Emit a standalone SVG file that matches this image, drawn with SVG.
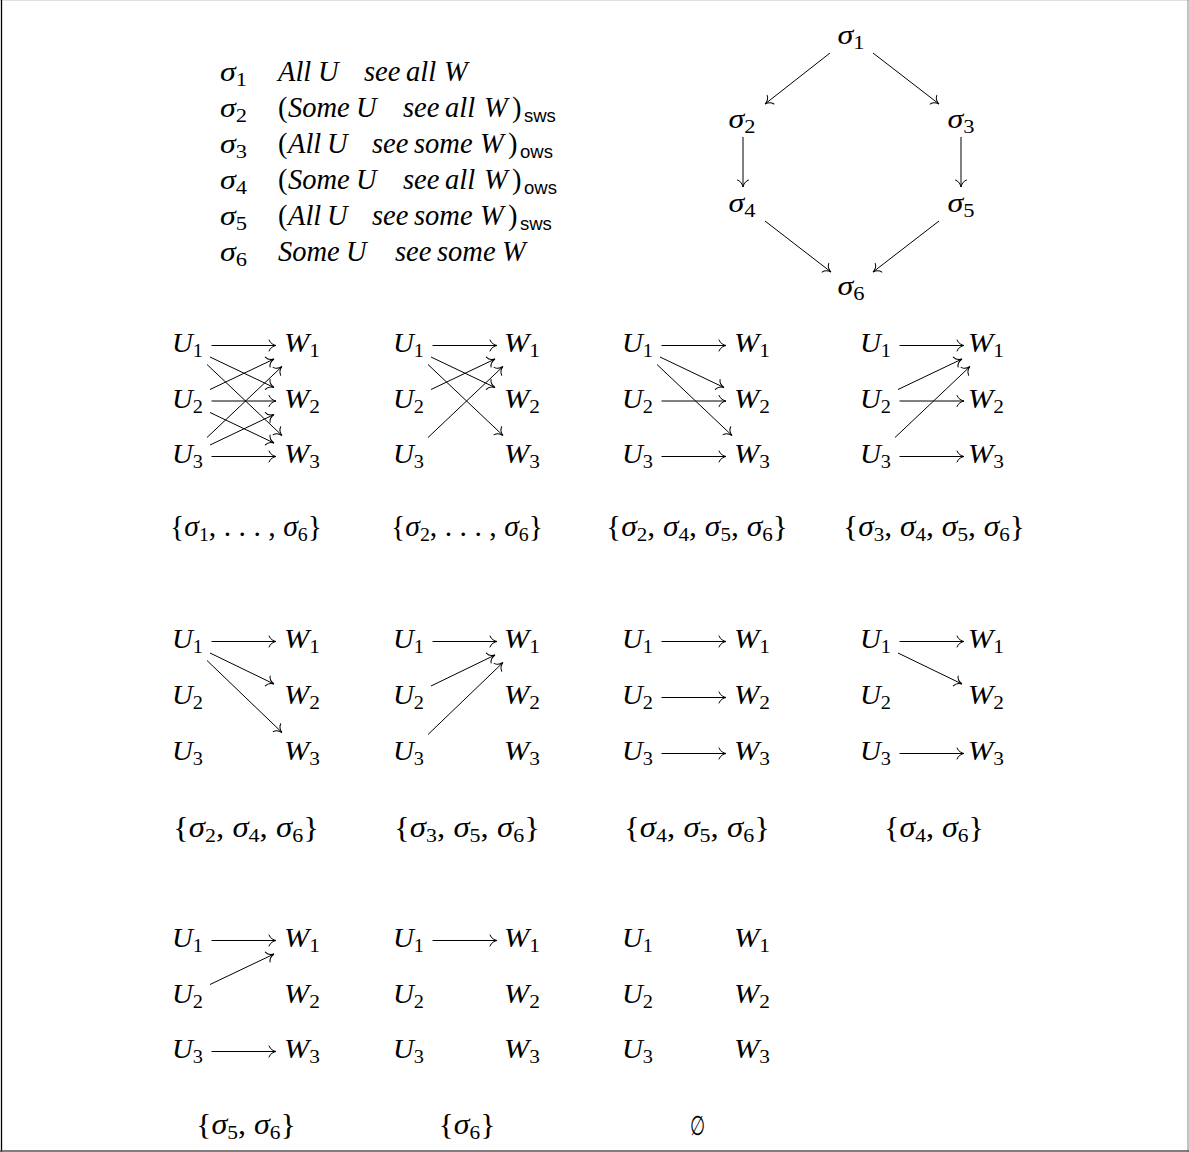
<svg xmlns="http://www.w3.org/2000/svg" width="1189" height="1152" viewBox="0 0 1189 1152">
<style>
.m{font-family:"Liberation Serif",serif;font-size:27px;font-style:italic;fill:#000}
.lg{font-size:28.5px}
.n{font-style:normal}
.s{font-size:19px;font-style:normal}
.sf{font-family:"Liberation Sans",sans-serif;font-size:18.5px;font-style:normal}
.lab{text-anchor:middle;font-size:28.5px}
.c{text-anchor:middle}
.e{fill:none;stroke:#000;stroke-width:1;marker-end:url(#to)}
</style>
<defs>
<marker id="to" markerUnits="userSpaceOnUse" orient="auto" overflow="visible" markerWidth="10" markerHeight="12" refX="0" refY="0">
<path d="M-7,-5.5 C-6,-2.2 -2.2,-0.4 0,0 C-2.2,0.4 -6,2.2 -7,5.5" fill="none" stroke="#000" stroke-width="1" stroke-linecap="round"/>
</marker>
</defs>
<rect width="1189" height="1152" fill="#fff"/>
<g id="frame">
<line x1="0" y1="0.5" x2="1189" y2="0.5" stroke="#e0e0e0" stroke-width="1"/>
<line x1="1.5" y1="0" x2="1.5" y2="1152" stroke="#000" stroke-width="1.3"/>
<line x1="1188" y1="0" x2="1188" y2="1152" stroke="#888" stroke-width="1"/>
<line x1="0" y1="1151" x2="1189" y2="1151" stroke="#555" stroke-width="1.3"/>
</g>

<g id="legend">
<text class="m" x="220" y="80.5" textLength="27" lengthAdjust="spacingAndGlyphs">σ<tspan class="s" dy="5">1</tspan></text>
<text class="m" x="220" y="116.5" textLength="27" lengthAdjust="spacingAndGlyphs">σ<tspan class="s" dy="5">2</tspan></text>
<text class="m" x="220" y="152.5" textLength="27" lengthAdjust="spacingAndGlyphs">σ<tspan class="s" dy="5">3</tspan></text>
<text class="m" x="220" y="188.5" textLength="27" lengthAdjust="spacingAndGlyphs">σ<tspan class="s" dy="5">4</tspan></text>
<text class="m" x="220" y="224.5" textLength="27" lengthAdjust="spacingAndGlyphs">σ<tspan class="s" dy="5">5</tspan></text>
<text class="m" x="220" y="260.5" textLength="27" lengthAdjust="spacingAndGlyphs">σ<tspan class="s" dy="5">6</tspan></text>
<text class="m lg" y="80.5"><tspan x="278">All</tspan><tspan x="318">U</tspan><tspan x="364">see</tspan><tspan x="406">all</tspan><tspan x="444">W</tspan></text>
<text class="m lg" y="116.5"><tspan class="n" x="278">(</tspan><tspan x="288">Some</tspan><tspan x="356">U</tspan><tspan x="403">see</tspan><tspan x="445">all</tspan><tspan x="484">W</tspan><tspan class="n" x="512">)</tspan><tspan class="sf" x="524" dy="5">sws</tspan></text>
<text class="m lg" y="152.5"><tspan class="n" x="278">(</tspan><tspan x="288">All</tspan><tspan x="327">U</tspan><tspan x="372">see</tspan><tspan x="414">some</tspan><tspan x="480">W</tspan><tspan class="n" x="508">)</tspan><tspan class="sf" x="520" dy="5">ows</tspan></text>
<text class="m lg" y="188.5"><tspan class="n" x="278">(</tspan><tspan x="288">Some</tspan><tspan x="356">U</tspan><tspan x="403">see</tspan><tspan x="445">all</tspan><tspan x="484">W</tspan><tspan class="n" x="512">)</tspan><tspan class="sf" x="524" dy="5">ows</tspan></text>
<text class="m lg" y="224.5"><tspan class="n" x="278">(</tspan><tspan x="288">All</tspan><tspan x="327">U</tspan><tspan x="372">see</tspan><tspan x="414">some</tspan><tspan x="480">W</tspan><tspan class="n" x="508">)</tspan><tspan class="sf" x="520" dy="5">sws</tspan></text>
<text class="m lg" y="260.5"><tspan x="278">Some</tspan><tspan x="346">U</tspan><tspan x="395">see</tspan><tspan x="437">some</tspan><tspan x="502">W</tspan></text>
</g>

<g id="hasse">
<g id="h1"><text class="m c" x="851" y="44" textLength="27" lengthAdjust="spacingAndGlyphs">σ<tspan class="s" dy="5">1</tspan></text></g>
<g id="h2"><text class="m c" x="742" y="128" textLength="27" lengthAdjust="spacingAndGlyphs">σ<tspan class="s" dy="5">2</tspan></text></g>
<g id="h3"><text class="m c" x="961" y="128" textLength="27" lengthAdjust="spacingAndGlyphs">σ<tspan class="s" dy="5">3</tspan></text></g>
<g id="h4"><text class="m c" x="742" y="212" textLength="27" lengthAdjust="spacingAndGlyphs">σ<tspan class="s" dy="5">4</tspan></text></g>
<g id="h5"><text class="m c" x="961" y="212" textLength="27" lengthAdjust="spacingAndGlyphs">σ<tspan class="s" dy="5">5</tspan></text></g>
<g id="h6"><text class="m c" x="851" y="295" textLength="27" lengthAdjust="spacingAndGlyphs">σ<tspan class="s" dy="5">6</tspan></text></g>
</g>

<g id="graph1">
<text class="m" x="172" y="352" textLength="31" lengthAdjust="spacingAndGlyphs">U<tspan class="s" dy="5">1</tspan></text>
<text class="m" x="172" y="407.5" textLength="31" lengthAdjust="spacingAndGlyphs">U<tspan class="s" dy="5">2</tspan></text>
<text class="m" x="172" y="463" textLength="31" lengthAdjust="spacingAndGlyphs">U<tspan class="s" dy="5">3</tspan></text>
<text class="m" x="284" y="352" textLength="36" lengthAdjust="spacingAndGlyphs">W<tspan class="s" dy="5">1</tspan></text>
<text class="m" x="284" y="407.5" textLength="36" lengthAdjust="spacingAndGlyphs">W<tspan class="s" dy="5">2</tspan></text>
<text class="m" x="284" y="463" textLength="36" lengthAdjust="spacingAndGlyphs">W<tspan class="s" dy="5">3</tspan></text>
<text class="m lab" x="246" y="536" textLength="152" lengthAdjust="spacingAndGlyphs"><tspan class="n">{</tspan>σ<tspan class="s" dy="5">1</tspan><tspan class="n" dy="-5">, . . . , </tspan>σ<tspan class="s" dy="5">6</tspan><tspan class="n" dy="-5">}</tspan></text>
</g>
<g id="graph2">
<text class="m" x="393" y="352" textLength="31" lengthAdjust="spacingAndGlyphs">U<tspan class="s" dy="5">1</tspan></text>
<text class="m" x="393" y="407.5" textLength="31" lengthAdjust="spacingAndGlyphs">U<tspan class="s" dy="5">2</tspan></text>
<text class="m" x="393" y="463" textLength="31" lengthAdjust="spacingAndGlyphs">U<tspan class="s" dy="5">3</tspan></text>
<text class="m" x="504" y="352" textLength="36" lengthAdjust="spacingAndGlyphs">W<tspan class="s" dy="5">1</tspan></text>
<text class="m" x="504" y="407.5" textLength="36" lengthAdjust="spacingAndGlyphs">W<tspan class="s" dy="5">2</tspan></text>
<text class="m" x="504" y="463" textLength="36" lengthAdjust="spacingAndGlyphs">W<tspan class="s" dy="5">3</tspan></text>
<text class="m lab" x="467" y="536" textLength="152" lengthAdjust="spacingAndGlyphs"><tspan class="n">{</tspan>σ<tspan class="s" dy="5">2</tspan><tspan class="n" dy="-5">, . . . , </tspan>σ<tspan class="s" dy="5">6</tspan><tspan class="n" dy="-5">}</tspan></text>
</g>
<g id="graph3">
<text class="m" x="622" y="352" textLength="31" lengthAdjust="spacingAndGlyphs">U<tspan class="s" dy="5">1</tspan></text>
<text class="m" x="622" y="407.5" textLength="31" lengthAdjust="spacingAndGlyphs">U<tspan class="s" dy="5">2</tspan></text>
<text class="m" x="622" y="463" textLength="31" lengthAdjust="spacingAndGlyphs">U<tspan class="s" dy="5">3</tspan></text>
<text class="m" x="734" y="352" textLength="36" lengthAdjust="spacingAndGlyphs">W<tspan class="s" dy="5">1</tspan></text>
<text class="m" x="734" y="407.5" textLength="36" lengthAdjust="spacingAndGlyphs">W<tspan class="s" dy="5">2</tspan></text>
<text class="m" x="734" y="463" textLength="36" lengthAdjust="spacingAndGlyphs">W<tspan class="s" dy="5">3</tspan></text>
<text class="m lab" x="697" y="536" textLength="182" lengthAdjust="spacingAndGlyphs"><tspan class="n">{</tspan>σ<tspan class="s" dy="5">2</tspan><tspan class="n" dy="-5">, </tspan>σ<tspan class="s" dy="5">4</tspan><tspan class="n" dy="-5">, </tspan>σ<tspan class="s" dy="5">5</tspan><tspan class="n" dy="-5">, </tspan>σ<tspan class="s" dy="5">6</tspan><tspan class="n" dy="-5">}</tspan></text>
</g>
<g id="graph4">
<text class="m" x="860" y="352" textLength="31" lengthAdjust="spacingAndGlyphs">U<tspan class="s" dy="5">1</tspan></text>
<text class="m" x="860" y="407.5" textLength="31" lengthAdjust="spacingAndGlyphs">U<tspan class="s" dy="5">2</tspan></text>
<text class="m" x="860" y="463" textLength="31" lengthAdjust="spacingAndGlyphs">U<tspan class="s" dy="5">3</tspan></text>
<text class="m" x="968" y="352" textLength="36" lengthAdjust="spacingAndGlyphs">W<tspan class="s" dy="5">1</tspan></text>
<text class="m" x="968" y="407.5" textLength="36" lengthAdjust="spacingAndGlyphs">W<tspan class="s" dy="5">2</tspan></text>
<text class="m" x="968" y="463" textLength="36" lengthAdjust="spacingAndGlyphs">W<tspan class="s" dy="5">3</tspan></text>
<text class="m lab" x="934" y="536" textLength="182" lengthAdjust="spacingAndGlyphs"><tspan class="n">{</tspan>σ<tspan class="s" dy="5">3</tspan><tspan class="n" dy="-5">, </tspan>σ<tspan class="s" dy="5">4</tspan><tspan class="n" dy="-5">, </tspan>σ<tspan class="s" dy="5">5</tspan><tspan class="n" dy="-5">, </tspan>σ<tspan class="s" dy="5">6</tspan><tspan class="n" dy="-5">}</tspan></text>
</g>

<g id="graph5">
<text class="m" x="172" y="648" textLength="31" lengthAdjust="spacingAndGlyphs">U<tspan class="s" dy="5">1</tspan></text>
<text class="m" x="172" y="704" textLength="31" lengthAdjust="spacingAndGlyphs">U<tspan class="s" dy="5">2</tspan></text>
<text class="m" x="172" y="760" textLength="31" lengthAdjust="spacingAndGlyphs">U<tspan class="s" dy="5">3</tspan></text>
<text class="m" x="284" y="648" textLength="36" lengthAdjust="spacingAndGlyphs">W<tspan class="s" dy="5">1</tspan></text>
<text class="m" x="284" y="704" textLength="36" lengthAdjust="spacingAndGlyphs">W<tspan class="s" dy="5">2</tspan></text>
<text class="m" x="284" y="760" textLength="36" lengthAdjust="spacingAndGlyphs">W<tspan class="s" dy="5">3</tspan></text>
<text class="m lab" x="246" y="836.5" textLength="146" lengthAdjust="spacingAndGlyphs"><tspan class="n">{</tspan>σ<tspan class="s" dy="5">2</tspan><tspan class="n" dy="-5">, </tspan>σ<tspan class="s" dy="5">4</tspan><tspan class="n" dy="-5">, </tspan>σ<tspan class="s" dy="5">6</tspan><tspan class="n" dy="-5">}</tspan></text>
</g>
<g id="graph6">
<text class="m" x="393" y="648" textLength="31" lengthAdjust="spacingAndGlyphs">U<tspan class="s" dy="5">1</tspan></text>
<text class="m" x="393" y="704" textLength="31" lengthAdjust="spacingAndGlyphs">U<tspan class="s" dy="5">2</tspan></text>
<text class="m" x="393" y="760" textLength="31" lengthAdjust="spacingAndGlyphs">U<tspan class="s" dy="5">3</tspan></text>
<text class="m" x="504" y="648" textLength="36" lengthAdjust="spacingAndGlyphs">W<tspan class="s" dy="5">1</tspan></text>
<text class="m" x="504" y="704" textLength="36" lengthAdjust="spacingAndGlyphs">W<tspan class="s" dy="5">2</tspan></text>
<text class="m" x="504" y="760" textLength="36" lengthAdjust="spacingAndGlyphs">W<tspan class="s" dy="5">3</tspan></text>
<text class="m lab" x="467" y="836.5" textLength="146" lengthAdjust="spacingAndGlyphs"><tspan class="n">{</tspan>σ<tspan class="s" dy="5">3</tspan><tspan class="n" dy="-5">, </tspan>σ<tspan class="s" dy="5">5</tspan><tspan class="n" dy="-5">, </tspan>σ<tspan class="s" dy="5">6</tspan><tspan class="n" dy="-5">}</tspan></text>
</g>
<g id="graph7">
<text class="m" x="622" y="648" textLength="31" lengthAdjust="spacingAndGlyphs">U<tspan class="s" dy="5">1</tspan></text>
<text class="m" x="622" y="704" textLength="31" lengthAdjust="spacingAndGlyphs">U<tspan class="s" dy="5">2</tspan></text>
<text class="m" x="622" y="760" textLength="31" lengthAdjust="spacingAndGlyphs">U<tspan class="s" dy="5">3</tspan></text>
<text class="m" x="734" y="648" textLength="36" lengthAdjust="spacingAndGlyphs">W<tspan class="s" dy="5">1</tspan></text>
<text class="m" x="734" y="704" textLength="36" lengthAdjust="spacingAndGlyphs">W<tspan class="s" dy="5">2</tspan></text>
<text class="m" x="734" y="760" textLength="36" lengthAdjust="spacingAndGlyphs">W<tspan class="s" dy="5">3</tspan></text>
<text class="m lab" x="697" y="836.5" textLength="146" lengthAdjust="spacingAndGlyphs"><tspan class="n">{</tspan>σ<tspan class="s" dy="5">4</tspan><tspan class="n" dy="-5">, </tspan>σ<tspan class="s" dy="5">5</tspan><tspan class="n" dy="-5">, </tspan>σ<tspan class="s" dy="5">6</tspan><tspan class="n" dy="-5">}</tspan></text>
</g>
<g id="graph8">
<text class="m" x="860" y="648" textLength="31" lengthAdjust="spacingAndGlyphs">U<tspan class="s" dy="5">1</tspan></text>
<text class="m" x="860" y="704" textLength="31" lengthAdjust="spacingAndGlyphs">U<tspan class="s" dy="5">2</tspan></text>
<text class="m" x="860" y="760" textLength="31" lengthAdjust="spacingAndGlyphs">U<tspan class="s" dy="5">3</tspan></text>
<text class="m" x="968" y="648" textLength="36" lengthAdjust="spacingAndGlyphs">W<tspan class="s" dy="5">1</tspan></text>
<text class="m" x="968" y="704" textLength="36" lengthAdjust="spacingAndGlyphs">W<tspan class="s" dy="5">2</tspan></text>
<text class="m" x="968" y="760" textLength="36" lengthAdjust="spacingAndGlyphs">W<tspan class="s" dy="5">3</tspan></text>
<text class="m lab" x="934" y="836.5" textLength="100" lengthAdjust="spacingAndGlyphs"><tspan class="n">{</tspan>σ<tspan class="s" dy="5">4</tspan><tspan class="n" dy="-5">, </tspan>σ<tspan class="s" dy="5">6</tspan><tspan class="n" dy="-5">}</tspan></text>
</g>

<g id="graph9">
<text class="m" x="172" y="947" textLength="31" lengthAdjust="spacingAndGlyphs">U<tspan class="s" dy="5">1</tspan></text>
<text class="m" x="172" y="1002.5" textLength="31" lengthAdjust="spacingAndGlyphs">U<tspan class="s" dy="5">2</tspan></text>
<text class="m" x="172" y="1058" textLength="31" lengthAdjust="spacingAndGlyphs">U<tspan class="s" dy="5">3</tspan></text>
<text class="m" x="284" y="947" textLength="36" lengthAdjust="spacingAndGlyphs">W<tspan class="s" dy="5">1</tspan></text>
<text class="m" x="284" y="1002.5" textLength="36" lengthAdjust="spacingAndGlyphs">W<tspan class="s" dy="5">2</tspan></text>
<text class="m" x="284" y="1058" textLength="36" lengthAdjust="spacingAndGlyphs">W<tspan class="s" dy="5">3</tspan></text>
<text class="m lab" x="246" y="1133.5" textLength="100" lengthAdjust="spacingAndGlyphs"><tspan class="n">{</tspan>σ<tspan class="s" dy="5">5</tspan><tspan class="n" dy="-5">, </tspan>σ<tspan class="s" dy="5">6</tspan><tspan class="n" dy="-5">}</tspan></text>
</g>
<g id="graph10">
<text class="m" x="393" y="947" textLength="31" lengthAdjust="spacingAndGlyphs">U<tspan class="s" dy="5">1</tspan></text>
<text class="m" x="393" y="1002.5" textLength="31" lengthAdjust="spacingAndGlyphs">U<tspan class="s" dy="5">2</tspan></text>
<text class="m" x="393" y="1058" textLength="31" lengthAdjust="spacingAndGlyphs">U<tspan class="s" dy="5">3</tspan></text>
<text class="m" x="504" y="947" textLength="36" lengthAdjust="spacingAndGlyphs">W<tspan class="s" dy="5">1</tspan></text>
<text class="m" x="504" y="1002.5" textLength="36" lengthAdjust="spacingAndGlyphs">W<tspan class="s" dy="5">2</tspan></text>
<text class="m" x="504" y="1058" textLength="36" lengthAdjust="spacingAndGlyphs">W<tspan class="s" dy="5">3</tspan></text>
<text class="m lab" x="467" y="1133.5" textLength="57" lengthAdjust="spacingAndGlyphs"><tspan class="n">{</tspan>σ<tspan class="s" dy="5">6</tspan><tspan class="n" dy="-5">}</tspan></text>
</g>
<g id="graph11">
<text class="m" x="622" y="947" textLength="31" lengthAdjust="spacingAndGlyphs">U<tspan class="s" dy="5">1</tspan></text>
<text class="m" x="622" y="1002.5" textLength="31" lengthAdjust="spacingAndGlyphs">U<tspan class="s" dy="5">2</tspan></text>
<text class="m" x="622" y="1058" textLength="31" lengthAdjust="spacingAndGlyphs">U<tspan class="s" dy="5">3</tspan></text>
<text class="m" x="734" y="947" textLength="36" lengthAdjust="spacingAndGlyphs">W<tspan class="s" dy="5">1</tspan></text>
<text class="m" x="734" y="1002.5" textLength="36" lengthAdjust="spacingAndGlyphs">W<tspan class="s" dy="5">2</tspan></text>
<text class="m" x="734" y="1058" textLength="36" lengthAdjust="spacingAndGlyphs">W<tspan class="s" dy="5">3</tspan></text>
<text class="lab" transform="translate(698,1135) scale(0.72,1.12)" x="0" y="0" style="font-family:'DejaVu Serif',serif;font-size:24px">∅</text>
</g>

<g id="connectors">
<path class="e" d="M830,53 L765,104"/>
<path class="e" d="M873,53 L939,104"/>
<path class="e" d="M743,137 L743,187"/>
<path class="e" d="M961,137 L961,187"/>
<path class="e" d="M765,221 L831,272"/>
<path class="e" d="M939,221 L873,272"/>
<path class="e" d="M211.5,345.5 L276,345.5"/>
<path class="e" d="M211.5,401 L276,401"/>
<path class="e" d="M211.5,456.5 L276,456.5"/>
<path class="e" d="M210,357 L274,387.5"/>
<path class="e" d="M210,412.5 L274,443"/>
<path class="e" d="M210,389.5 L274,359"/>
<path class="e" d="M210,445 L274,414.5"/>
<path class="e" d="M207,364.5 L282,435.5"/>
<path class="e" d="M207,437.5 L282,366.5"/>
<path class="e" d="M432.5,345.5 L497,345.5"/>
<path class="e" d="M431,357 L495,387.5"/>
<path class="e" d="M428,364.5 L503,435.5"/>
<path class="e" d="M431,389.5 L495,359"/>
<path class="e" d="M428,437.5 L503,366.5"/>
<path class="e" d="M661.5,345.5 L726,345.5"/>
<path class="e" d="M660,357 L724,387.5"/>
<path class="e" d="M657,364.5 L732,435.5"/>
<path class="e" d="M661.5,401 L726,401"/>
<path class="e" d="M661.5,456.5 L726,456.5"/>
<path class="e" d="M899.5,345.5 L964,345.5"/>
<path class="e" d="M898,389.5 L962,359"/>
<path class="e" d="M895,437.5 L970,366.5"/>
<path class="e" d="M899.5,401 L964,401"/>
<path class="e" d="M899.5,456.5 L964,456.5"/>
<path class="e" d="M211.5,641.5 L276,641.5"/>
<path class="e" d="M210,653 L274,684"/>
<path class="e" d="M207,660.5 L282,732.5"/>
<path class="e" d="M432.5,641.5 L497,641.5"/>
<path class="e" d="M431,686 L495,655"/>
<path class="e" d="M428,734.5 L503,662.5"/>
<path class="e" d="M661.5,641.5 L726,641.5"/>
<path class="e" d="M661.5,697.5 L726,697.5"/>
<path class="e" d="M661.5,753.5 L726,753.5"/>
<path class="e" d="M899.5,641.5 L964,641.5"/>
<path class="e" d="M898,653 L962,684"/>
<path class="e" d="M899.5,753.5 L964,753.5"/>
<path class="e" d="M211.5,940.5 L276,940.5"/>
<path class="e" d="M210,984.5 L274,954"/>
<path class="e" d="M211.5,1051.5 L276,1051.5"/>
<path class="e" d="M432.5,940.5 L497,940.5"/>
</g>
</svg>
